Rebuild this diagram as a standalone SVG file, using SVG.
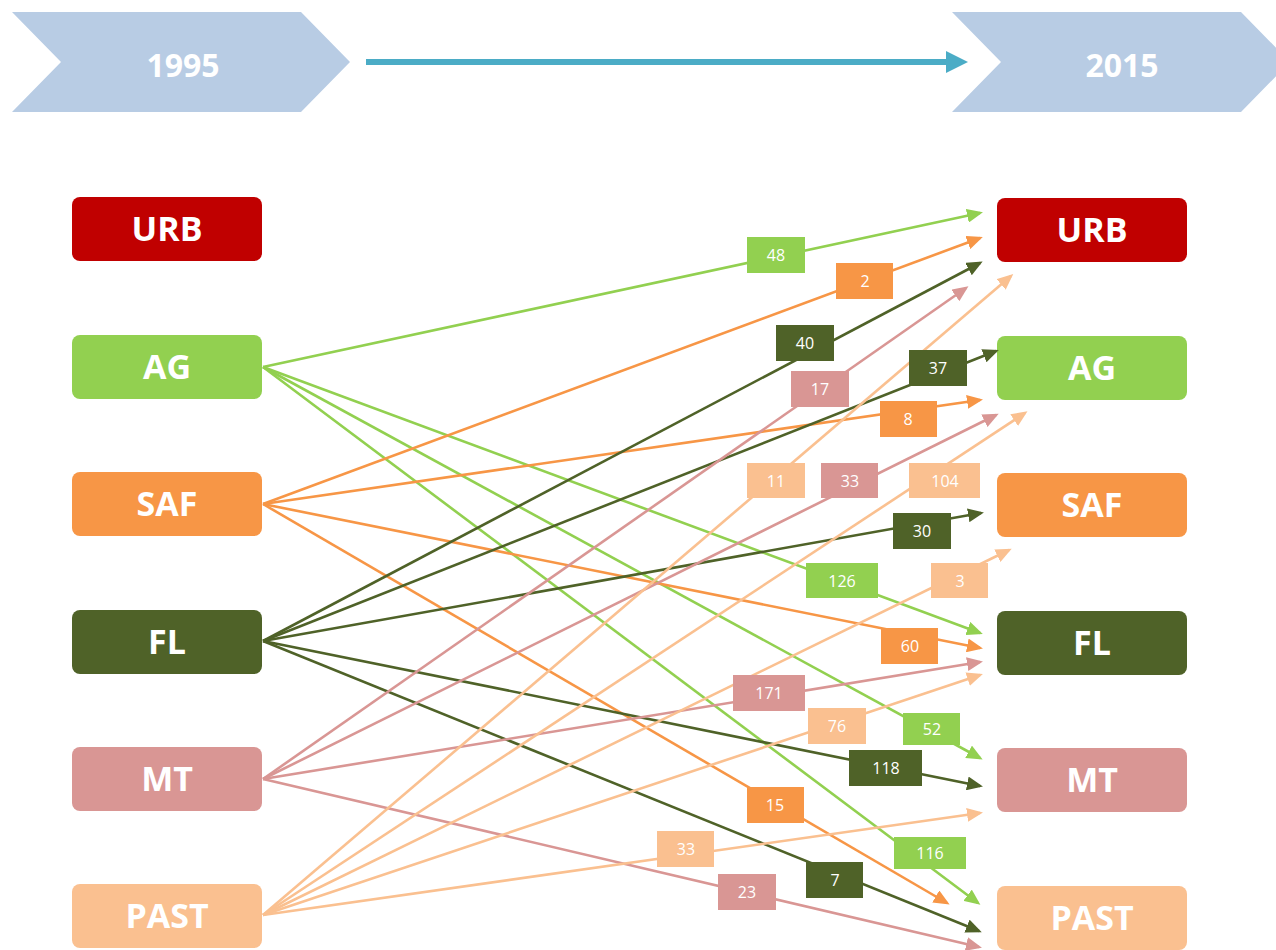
<svg xmlns="http://www.w3.org/2000/svg" width="1276" height="950" viewBox="0 0 1276 950">
  <defs>
    <style>
      .chev { fill: #B8CCE4; }
      .year { font-family: "Open Sans", "Liberation Sans", sans-serif; font-weight: 700; font-size: 32px; fill: #FFFFFF; text-anchor: middle; }
      .node rect { rx: 8; ry: 8; }
      .node text { font-family: "Open Sans", "Liberation Sans", sans-serif; font-weight: 700; font-size: 34px; fill: #FFFFFF; text-anchor: middle; }
      .edge { fill: none; stroke-width: 2.6; }
      .lbl text { font-family: "Open Sans", "Liberation Sans", sans-serif; font-size: 16px; fill: #FFFFFF; text-anchor: middle; }
      .c-urb { fill: #C00000; }
      .c-ag { fill: #92D050; }
      .c-saf { fill: #F79646; }
      .c-fl { fill: #4F6228; }
      .c-mt { fill: #D99694; }
      .c-past { fill: #FAC090; }
      .s-ag { stroke: #92D050; marker-end: url(#arr-ag); }
      .s-saf { stroke: #F79646; marker-end: url(#arr-saf); }
      .s-fl { stroke: #4F6228; marker-end: url(#arr-fl); }
      .s-mt { stroke: #D99694; marker-end: url(#arr-mt); }
      .s-past { stroke: #FAC090; marker-end: url(#arr-past); }
    </style>
    <marker id="arr-ag" viewBox="0 0 16 14" refX="13" refY="7" markerWidth="16" markerHeight="14" markerUnits="userSpaceOnUse" orient="auto"><path d="M0,0 L16,7 L0,14 Z" fill="#92D050"/></marker>
    <marker id="arr-saf" viewBox="0 0 16 14" refX="13" refY="7" markerWidth="16" markerHeight="14" markerUnits="userSpaceOnUse" orient="auto"><path d="M0,0 L16,7 L0,14 Z" fill="#F79646"/></marker>
    <marker id="arr-fl" viewBox="0 0 16 14" refX="13" refY="7" markerWidth="16" markerHeight="14" markerUnits="userSpaceOnUse" orient="auto"><path d="M0,0 L16,7 L0,14 Z" fill="#4F6228"/></marker>
    <marker id="arr-mt" viewBox="0 0 16 14" refX="13" refY="7" markerWidth="16" markerHeight="14" markerUnits="userSpaceOnUse" orient="auto"><path d="M0,0 L16,7 L0,14 Z" fill="#D99694"/></marker>
    <marker id="arr-past" viewBox="0 0 16 14" refX="13" refY="7" markerWidth="16" markerHeight="14" markerUnits="userSpaceOnUse" orient="auto"><path d="M0,0 L16,7 L0,14 Z" fill="#FAC090"/></marker>
  </defs>

  <rect width="1276" height="950" fill="#FFFFFF"/>

  <!-- timeline header -->
  <g id="timeline">
    <polygon class="chev" points="12,12 301,12 350,62 301,112 12,112 61,62"/>
    <text class="year" x="183" y="77">1995</text>
    <polygon class="chev" points="952,12 1241,12 1290,62 1241,112 952,112 1001,62"/>
    <text class="year" x="1122" y="77">2015</text>
    <line x1="366" y1="62" x2="950" y2="62" stroke="#4BACC6" stroke-width="6"/>
    <polygon points="946,51 968,62 946,73" fill="#4BACC6"/>
  </g>

  <!-- 1995 classes -->
  <g id="y1995-URB" class="node"><rect class="c-urb" x="72" y="197" width="190" height="64"/><text x="167" y="241">URB</text></g>
  <g id="y1995-AG" class="node"><rect class="c-ag" x="72" y="335" width="190" height="64"/><text x="167" y="379">AG</text></g>
  <g id="y1995-SAF" class="node"><rect class="c-saf" x="72" y="472" width="190" height="64"/><text x="167" y="516">SAF</text></g>
  <g id="y1995-FL" class="node"><rect class="c-fl" x="72" y="610" width="190" height="64"/><text x="167" y="654">FL</text></g>
  <g id="y1995-MT" class="node"><rect class="c-mt" x="72" y="747" width="190" height="64"/><text x="167" y="791">MT</text></g>
  <g id="y1995-PAST" class="node"><rect class="c-past" x="72" y="884" width="190" height="64"/><text x="167" y="928">PAST</text></g>

  <!-- 2015 classes -->
  <g id="y2015-URB" class="node"><rect class="c-urb" x="997" y="198" width="190" height="64"/><text x="1092" y="242">URB</text></g>
  <g id="y2015-AG" class="node"><rect class="c-ag" x="997" y="336" width="190" height="64"/><text x="1092" y="380">AG</text></g>
  <g id="y2015-SAF" class="node"><rect class="c-saf" x="997" y="473" width="190" height="64"/><text x="1092" y="517">SAF</text></g>
  <g id="y2015-FL" class="node"><rect class="c-fl" x="997" y="611" width="190" height="64"/><text x="1092" y="655">FL</text></g>
  <g id="y2015-MT" class="node"><rect class="c-mt" x="997" y="748" width="190" height="64"/><text x="1092" y="792">MT</text></g>
  <g id="y2015-PAST" class="node"><rect class="c-past" x="997" y="886" width="190" height="64"/><text x="1092" y="930">PAST</text></g>

  <!-- transitions 1995 -> 2015 -->
  <g id="connectors">
    <line class="edge s-ag" x1="263" y1="367" x2="980" y2="213"/>
    <line class="edge s-ag" x1="263" y1="367" x2="980" y2="633"/>
    <line class="edge s-ag" x1="263" y1="367" x2="980" y2="758"/>
    <line class="edge s-ag" x1="263" y1="367" x2="978" y2="903"/>

    <line class="edge s-saf" x1="263" y1="504" x2="980" y2="238"/>
    <line class="edge s-saf" x1="263" y1="504" x2="980" y2="400"/>
    <line class="edge s-saf" x1="263" y1="504" x2="980" y2="648"/>
    <line class="edge s-saf" x1="263" y1="504" x2="947" y2="903"/>

    <line class="edge s-fl" x1="263" y1="641" x2="980" y2="263"/>
    <line class="edge s-fl" x1="263" y1="641" x2="996" y2="351"/>
    <line class="edge s-fl" x1="263" y1="641" x2="981" y2="513"/>
    <line class="edge s-fl" x1="263" y1="641" x2="980" y2="786"/>
    <line class="edge s-fl" x1="263" y1="641" x2="979" y2="931"/>

    <line class="edge s-mt" x1="263" y1="779" x2="966" y2="288"/>
    <line class="edge s-mt" x1="263" y1="779" x2="996" y2="415"/>
    <line class="edge s-mt" x1="263" y1="779" x2="980" y2="662"/>
    <line class="edge s-mt" x1="263" y1="779" x2="979" y2="947"/>

    <line class="edge s-past" x1="263" y1="915" x2="1011" y2="276"/>
    <line class="edge s-past" x1="263" y1="915" x2="1025" y2="413"/>
    <line class="edge s-past" x1="263" y1="915" x2="1009" y2="550"/>
    <line class="edge s-past" x1="263" y1="915" x2="980" y2="675"/>
    <line class="edge s-past" x1="263" y1="915" x2="980" y2="813"/>
  </g>

  <!-- transition counts -->
  <g id="edge-labels" class="lbl">
    <rect class="c-ag" x="747" y="237" width="58" height="36"/><text x="776" y="261">48</text>
    <rect class="c-ag" x="806" y="563" width="72" height="35"/><text x="842" y="587">126</text>
    <rect class="c-ag" x="903" y="713" width="57" height="32"/><text x="932" y="735">52</text>
    <rect class="c-ag" x="894" y="837" width="72" height="32"/><text x="930" y="859">116</text>

    <rect class="c-saf" x="836" y="263" width="57" height="36"/><text x="865" y="287">2</text>
    <rect class="c-saf" x="880" y="401" width="57" height="36"/><text x="908" y="425">8</text>
    <rect class="c-saf" x="881" y="628" width="57" height="36"/><text x="910" y="652">60</text>
    <rect class="c-saf" x="747" y="787" width="57" height="36"/><text x="775" y="811">15</text>

    <rect class="c-fl" x="776" y="325" width="58" height="36"/><text x="805" y="349">40</text>
    <rect class="c-fl" x="909" y="350" width="58" height="36"/><text x="938" y="374">37</text>
    <rect class="c-fl" x="893" y="513" width="58" height="36"/><text x="922" y="537">30</text>
    <rect class="c-fl" x="849" y="750" width="73" height="36"/><text x="886" y="774">118</text>
    <rect class="c-fl" x="806" y="862" width="57" height="36"/><text x="835" y="886">7</text>

    <rect class="c-mt" x="791" y="371" width="58" height="36"/><text x="820" y="395">17</text>
    <rect class="c-mt" x="821" y="463" width="57" height="35"/><text x="850" y="487">33</text>
    <rect class="c-mt" x="733" y="675" width="72" height="36"/><text x="769" y="699">171</text>
    <rect class="c-mt" x="718" y="874" width="58" height="36"/><text x="747" y="898">23</text>

    <rect class="c-past" x="747" y="463" width="58" height="35"/><text x="776" y="487">11</text>
    <rect class="c-past" x="909" y="463" width="71" height="35"/><text x="945" y="487">104</text>
    <rect class="c-past" x="931" y="563" width="57" height="35"/><text x="960" y="587">3</text>
    <rect class="c-past" x="808" y="708" width="58" height="36"/><text x="837" y="732">76</text>
    <rect class="c-past" x="657" y="831" width="57" height="36"/><text x="686" y="855">33</text>
  </g>
</svg>
